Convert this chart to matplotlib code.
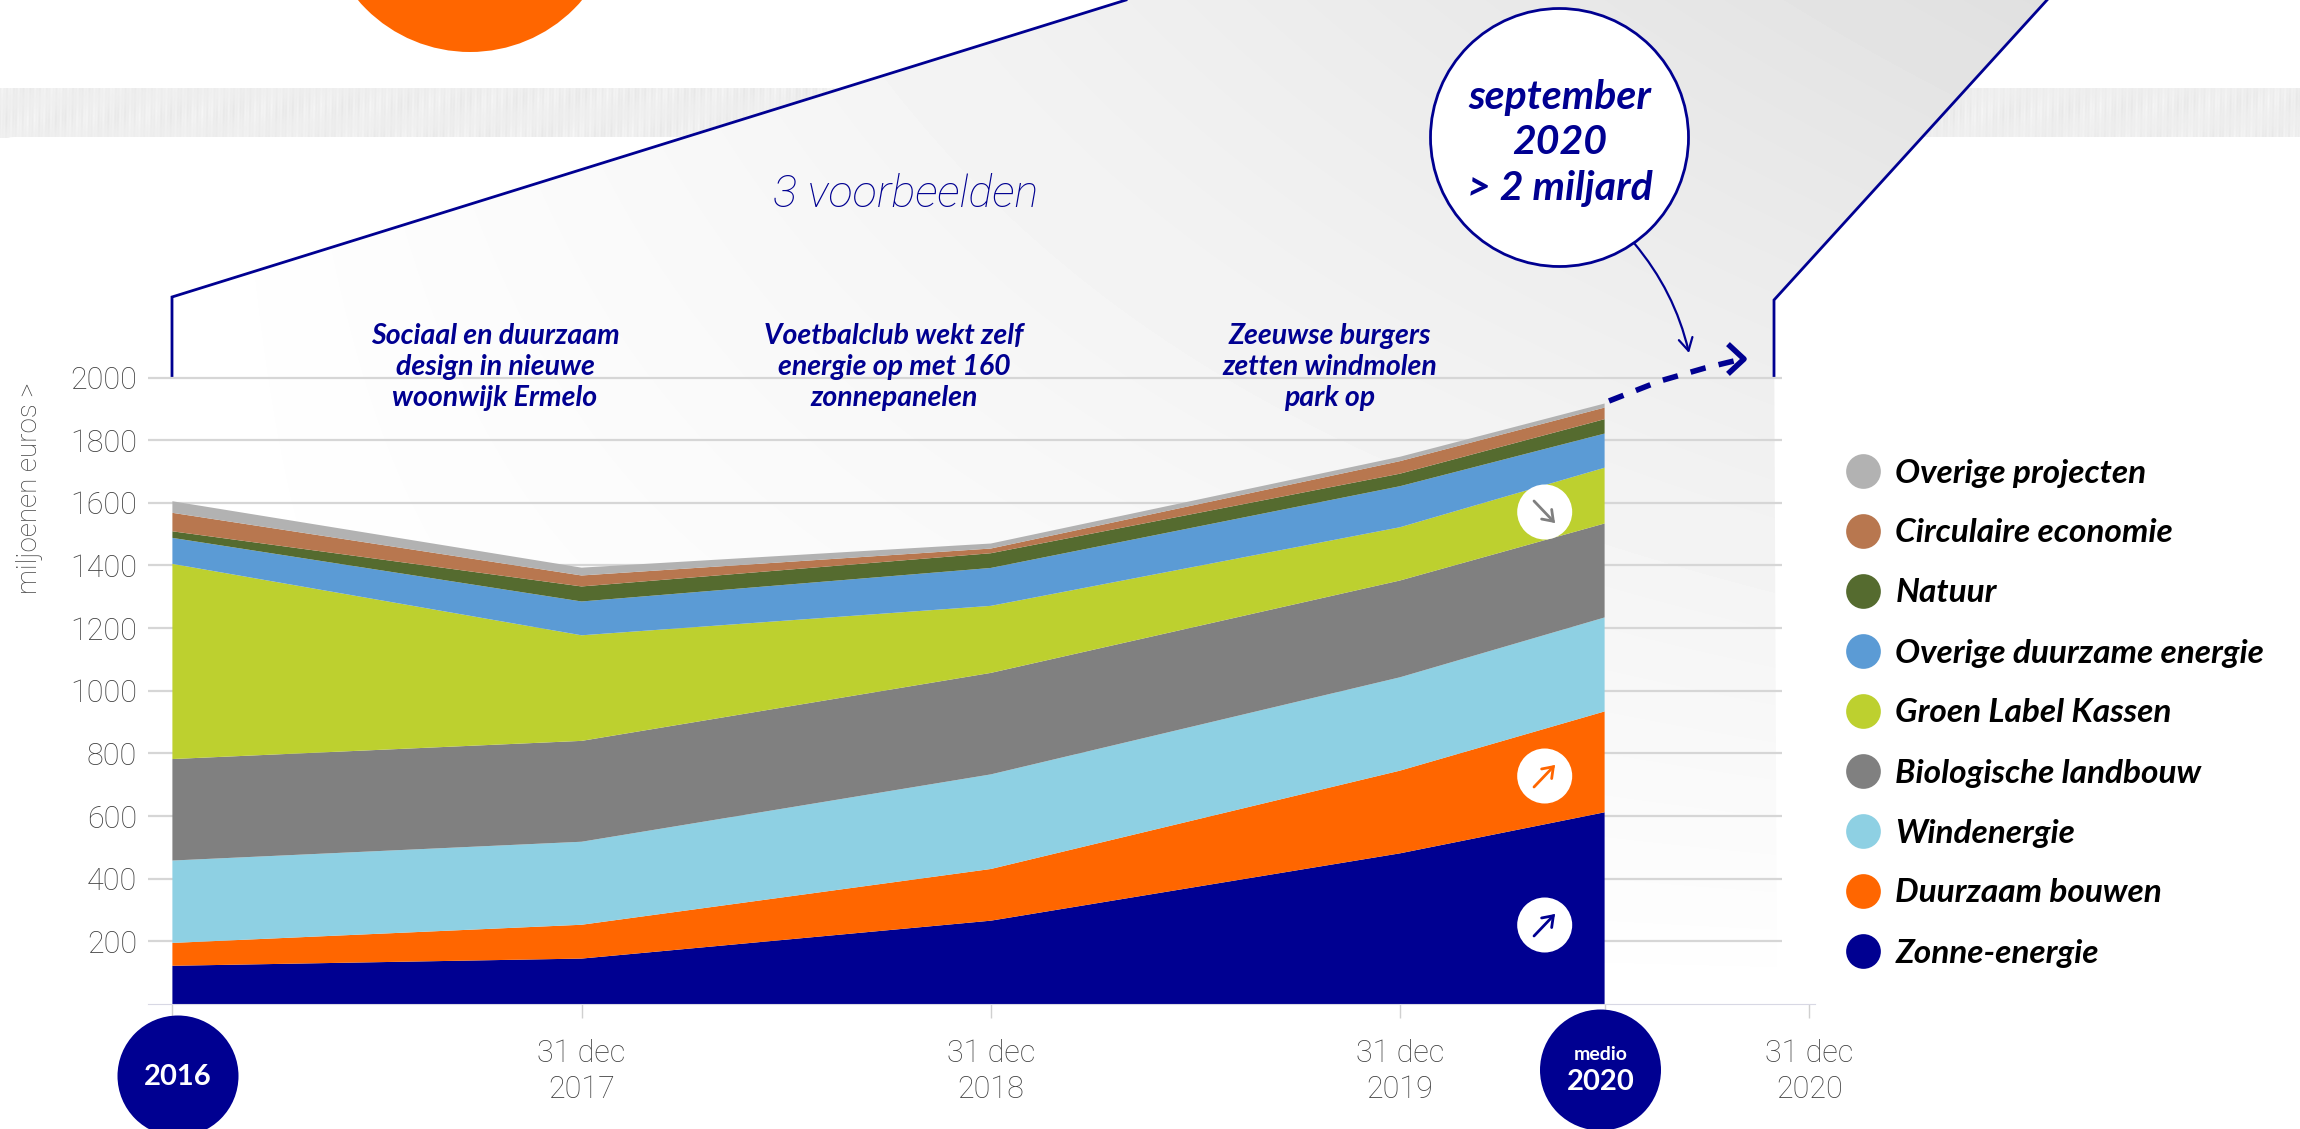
import numpy as np
import matplotlib
matplotlib.use("Agg")
import matplotlib.pyplot as plt
from matplotlib.lines import Line2D
from matplotlib.patches import Circle, FancyArrowPatch, FancyBboxPatch, Polygon

W, H = 2300, 1129
NAVY = "#000091"
TICKC = "#404040"
FONT = "Lato"
THIN = "Roboto"

# ---- data: position 0 = 2016, 1..3 = 31 dec 2017..2019, 3.5 = medio 2020, 4 = 31 dec 2020
x_pos = [0, 1, 2, 3, 3.5]
names = ["Zonne-energie", "Duurzaam bouwen", "Windenergie", "Biologische landbouw",
         "Groen Label Kassen", "Overige duurzame energie", "Natuur",
         "Circulaire economie", "Overige projecten"]
zonne = [122, 145, 266, 481, 612]
bouwen = [73, 108, 165, 264, 322]
wind = [263, 265, 302, 298, 300]
bio = [324, 322, 324, 309, 300]
groen = [623, 337, 214, 170, 178]
overig_energie = [83, 108, 121, 131, 109]
natuur = [21, 48, 47, 40, 46]
circulair = [59, 35, 15, 40, 37]
overig = [37, 25, 16, 14, 13]
colors = ["#000091", "#FF6600", "#8ED0E3", "#808080", "#BDD02F",
          "#5B9BD5", "#556B2F", "#B8774F", "#B2B2B2"]
y_ticks = [200, 400, 600, 800, 1000, 1200, 1400, 1600, 1800, 2000]
x_ticks = [0, 1, 2, 3, 3.5, 4]
x_labels = ["", "31 dec\n2017", "31 dec\n2018", "31 dec\n2019", "", "31 dec\n2020"]
examples = ["Sociaal en duurzaam\ndesign in nieuwe\nwoonwijk Ermelo",
            "Voetbalclub wekt zelf\nenergie op met 160\nzonnepanelen",
            "Zeeuwse burgers\nzetten windmolen\npark op"]

fig = plt.figure(figsize=(W / 100, H / 100), dpi=100, facecolor="white")

# ---- background layer, in pixel coordinates
bg = fig.add_axes([0, 0, 1, 1], zorder=0)
bg.set_xlim(0, W); bg.set_ylim(H, 0); bg.axis("off")
xx = np.arange(W)[None, :].astype(float)
rows = np.arange(88, 138)[:, None].astype(float)
streaks = (3.0 * np.sin(xx * 0.73 + 2 * np.sin(xx * 0.019)) + 2.5 * np.sin(xx * 1.91 + rows * 0.05)
           + 2.0 * np.sin(xx * 0.113 + rows * 0.09))
tex = 238 + streaks * (0.7 + 0.3 * np.sin(rows * 0.17 + xx * 0.007))
bg.imshow(np.clip(tex, 0, 255), extent=(0, W, 138, 88), cmap="gray", vmin=0, vmax=255,
          aspect="auto", zorder=0)
bg.add_patch(FancyBboxPatch((0, -40), W + 40, 127, boxstyle="round,pad=0,rounding_size=12",
                            fc="white", ec="none", zorder=1))
bg.add_patch(FancyBboxPatch((0, 137), W + 40, H, boxstyle="round,pad=0,rounding_size=14",
                            fc="white", ec="none", zorder=1))
yy_, xx_ = np.mgrid[0:H, 0:W]
dark = 31 * np.clip((xx_ - 172) / 1858, 0, None) * np.clip((1004 - yy_) / 1004, 0, None)
shape = Polygon([(172, 297), (1126, 0), (2047, 0), (1774, 300), (1777, 1004), (172, 1004)],
                closed=True, fc="none", ec="none", transform=bg.transData)
bg.add_patch(shape)
im = bg.imshow(255 - dark, extent=(0, W, H, 0), cmap="gray", vmin=0, vmax=255,
               aspect="auto", zorder=2)
im.set_clip_path(shape)
bg.plot([172, 172, 1126], [377, 297, 0], color=NAVY, lw=2, zorder=3, solid_joinstyle="miter")
bg.plot([1774, 1774, 2047], [377, 300, 0], color=NAVY, lw=2, zorder=3, solid_joinstyle="miter")
bg.add_patch(Circle((470, -95), 147, fc="#FF6600", ec="none", zorder=3))
bg.set_xlim(0, W); bg.set_ylim(H, 0)

# ---- chart layer
L, R, T, B = 148, 1815, 377.5, 1004
ax = fig.add_axes([L / W, 1 - B / H, (R - L) / W, (B - T) / H], zorder=1)
ax.patch.set_alpha(0)
ax.set_xlim((L - 172.4) / 409.2, (R - 172.4) / 409.2)
ax.set_ylim(0, 2000)
ax.hlines(y_ticks, ax.get_xlim()[0], (1782 - 172.4) / 409.2, color="#d6d6d6", lw=1.6,
          zorder=1, clip_on=False)
polys = ax.stackplot(x_pos, zonne, bouwen, wind, bio, groen, overig_energie, natuur,
                     circulair, overig, colors=colors, zorder=2, lw=0)
for s in ("top", "right", "left"):
    ax.spines[s].set_visible(False)
ax.spines["bottom"].set_color("#d8d8e4")
ax.set_yticks(y_ticks)
ax.set_xticks(x_ticks, x_labels)
ax.tick_params(axis="y", length=0, pad=8, labelsize=22, labelcolor=TICKC)
ax.tick_params(axis="x", length=10, width=1, color="#d0d0d0", pad=15, labelsize=22, labelcolor=TICKC)
for t in ax.get_xticklabels() + ax.get_yticklabels():
    t.set_family(THIN); t.set_weight("light"); t.set_linespacing(1.3)
ax.set_ylabel("miljoenen euros >", family=THIN, weight="light", fontsize=20, color=TICKC)
ax.yaxis.set_label_coords((43 - L) / (R - L), (B - 488) / (B - T))

# ---- legend
handles = [Line2D([], [], ls="none", marker="o", ms=25, mfc=c, mec="none", label=n)
           for n, c in zip(names[::-1], colors[::-1])]
leg = fig.legend(handles=handles, loc="center left", frameon=False,
                 bbox_to_anchor=(1827 / W, 1 - 713 / H), labelspacing=0.93, handletextpad=0.39,
                 borderpad=0, handlelength=1.16,
                 prop={"family": FONT, "weight": "bold", "style": "italic", "size": 24})
leg.set_zorder(3)

# ---- annotation layer, in pixel coordinates
top = fig.add_axes([0, 0, 1, 1], zorder=2)
top.set_xlim(0, W); top.set_ylim(H, 0); top.axis("off"); top.patch.set_alpha(0)

top.text(906, 195, "3 voorbeelden", color=NAVY, family=THIN, style="italic", weight="light",
         fontsize=32.5, ha="center", va="center")
for cx, txt in zip([495, 894, 1330], examples):
    top.text(cx, 367, txt, color=NAVY, family=FONT, style="italic", weight="bold", fontsize=20.5,
             ha="center", va="center", linespacing=1.22)

# callout
top.add_patch(Circle((1559.5, 137.5), 129, fc="white", ec=NAVY, lw=2, zorder=3))
top.text(1559.5, 143, "september\n2020\n> 2 miljard", color=NAVY, family=FONT, style="italic",
         weight="bold", fontsize=29.5, ha="center", va="center", linespacing=1.29, zorder=4)
top.add_patch(FancyArrowPatch((1634, 243), (1689, 353), connectionstyle="arc3,rad=-0.12",
                              arrowstyle="->,head_length=9,head_width=5", color=NAVY, lw=1.6,
                              shrinkA=0, shrinkB=0, zorder=3))
# dashed projection
top.plot([1609, 1660, 1705, 1738], [401, 381, 368, 360], color=NAVY, lw=4, ls=(0, (2.8, 2.4)), zorder=3)
top.plot([1730, 1744, 1730], [346, 359, 372], color=NAVY, lw=4, zorder=3)

# trend badges
for cy, col, up in [(512, "#808080", False), (776, "#FF6600", True), (925, NAVY, True)]:
    top.add_patch(Circle((1544.7, cy), 27.5, fc="white", ec="none", zorder=3))
    a, b = (1534, cy + 11), (1555, cy - 11)
    if not up:
        a, b = (1534, cy - 11), (1555, cy + 11)
    top.add_patch(FancyArrowPatch(a, b, arrowstyle="->,head_length=7,head_width=5", color=col, lw=2,
                                  shrinkA=0, shrinkB=0, zorder=4, joinstyle="miter"))

# period badges
top.add_patch(Circle((178, 1076), 60.5, fc=NAVY, ec="none", zorder=3))
top.text(178, 1077, "2016", color="white", family=FONT, weight="bold", fontsize=21,
         ha="center", va="center", zorder=4)
top.add_patch(Circle((1600.5, 1070), 60.5, fc=NAVY, ec="none", zorder=3))
top.text(1600.5, 1054, "medio", color="white", family=FONT, weight="bold", fontsize=14,
         ha="center", va="center", zorder=4)
top.text(1600.5, 1082, "2020", color="white", family=FONT, weight="bold", fontsize=21,
         ha="center", va="center", zorder=4)

fig.savefig("out.png", dpi=100, facecolor="white")
